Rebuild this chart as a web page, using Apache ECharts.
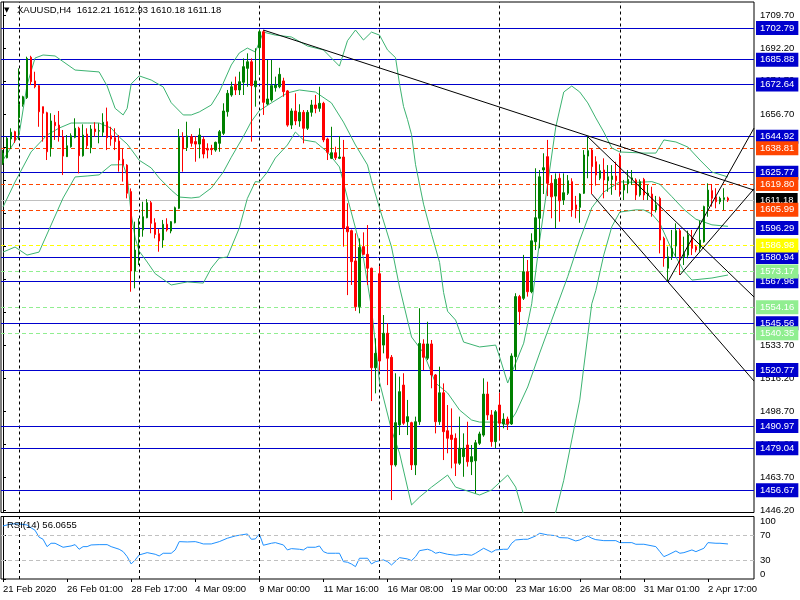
<!DOCTYPE html>
<html><head><meta charset="utf-8">
<script src="https://cdn.jsdelivr.net/npm/echarts@6/dist/echarts.min.js"></script>
<style>html,body{margin:0;padding:0;background:#fff}#c{width:800px;height:600px}</style>
</head><body><div id="c"></div>
<script>
// ---------- DATA ----------
const titleText = 'XAUUSD,H4  1612.21 1612.93 1610.18 1611.18';
const rsiTitle = 'RSI(14) 56.0655';
// H4 candles [open, high, low, close], oldest first (index 0 = 21 Feb 2020)
const candles = [
[1630.9,1637.8,1629.9,1636.2],[1633.7,1644.9,1633.4,1644.1],[1643.7,1649.4,1638.4,1647.3],[1647.6,1648.1,1641.6,1643.2],
[1655.0,1681.3,1643.2,1662.2],[1662.2,1666.7,1660.9,1666.2],[1665.7,1687.5,1665.0,1686.6],[1687.2,1688.0,1672.4,1674.2],
[1674.6,1679.5,1670.7,1671.5],[1672.1,1672.4,1650.2,1658.2],[1660.9,1660.9,1642.3,1657.4],[1657.7,1658.2,1632.5,1636.9],
[1639.1,1657.4,1634.3,1653.3],[1652.6,1656.5,1643.2,1650.8],[1651.1,1658.6,1642.3,1645.3],[1644.9,1648.5,1624.5,1634.6],
[1634.3,1645.8,1634.1,1640.1],[1639.6,1646.7,1639.1,1645.4],[1644.6,1654.7,1644.1,1649.4],[1649.4,1650.2,1625.4,1634.8],
[1634.8,1651.5,1634.3,1645.8],[1646.3,1649.4,1638.4,1640.1],[1639.1,1651.1,1636.1,1649.0],[1649.0,1652.6,1644.9,1647.6],
[1647.9,1652.0,1641.4,1648.1],[1647.3,1657.4,1644.9,1652.6],[1652.9,1660.4,1637.8,1644.4],[1645.4,1650.2,1640.1,1643.7],
[1644.4,1649.4,1637.8,1642.3],[1642.6,1645.8,1626.3,1632.5],[1632.9,1638.7,1621.0,1629.8],[1629.8,1630.3,1612.1,1614.8],
[1615.7,1617.4,1562.4,1573.4],[1573.4,1599.7,1564.2,1584.6],[1591.7,1601.5,1576.6,1595.3],[1595.3,1610.3,1591.7,1602.3],
[1601.8,1611.7,1601.5,1609.8],[1609.8,1610.7,1593.5,1598.8],[1599.1,1601.5,1590.8,1592.9],[1593.3,1595.8,1583.7,1589.4],
[1589.9,1600.6,1585.8,1598.3],[1598.3,1601.5,1594.4,1595.3],[1594.7,1600.0,1593.5,1599.7],[1599.1,1607.7,1598.8,1607.1],
[1606.8,1649.0,1606.4,1644.6],[1644.6,1647.3,1626.3,1638.4],[1639.1,1652.9,1637.3,1645.3],[1644.9,1646.3,1639.6,1641.4],
[1642.3,1645.3,1631.6,1641.0],[1641.0,1649.4,1633.4,1645.8],[1643.5,1644.9,1633.4,1635.7],[1638.7,1641.4,1633.4,1637.8],
[1638.7,1640.6,1635.2,1638.0],[1637.8,1642.3,1636.9,1641.9],[1641.4,1648.5,1636.9,1647.6],[1646.7,1662.7,1645.8,1658.6],
[1658.2,1669.8,1655.6,1668.0],[1667.1,1674.2,1666.2,1671.5],[1672.8,1676.9,1667.1,1669.8],[1669.8,1679.5,1667.1,1674.2],
[1673.9,1686.6,1667.1,1682.2],[1681.3,1689.3,1671.5,1684.8],[1684.8,1686.6,1642.3,1672.1],[1671.5,1692.0,1660.9,1674.6],
[1692.3,1701.7,1677.8,1700.8],[1700.8,1701.7,1656.5,1663.2],[1662.3,1685.8,1661.8,1665.0],[1664.5,1685.8,1663.6,1672.1],
[1671.0,1676.9,1668.9,1672.4],[1671.5,1681.6,1670.7,1678.1],[1674.6,1676.3,1666.2,1668.9],[1669.3,1669.8,1650.2,1651.1],
[1651.1,1660.0,1649.0,1658.6],[1658.6,1668.0,1651.1,1653.3],[1653.3,1662.2,1650.2,1657.9],[1657.9,1659.1,1641.4,1649.4],
[1649.4,1659.1,1648.5,1657.9],[1657.9,1664.5,1655.6,1661.8],[1661.8,1667.1,1657.4,1660.0],[1660.0,1671.5,1658.2,1662.7],
[1662.7,1663.5,1642.0,1643.2],[1643.7,1644.4,1632.5,1636.6],[1633.4,1650.2,1633.0,1636.4],[1636.4,1639.6,1632.5,1633.7],
[1633.4,1645.3,1633.0,1634.1],[1634.1,1643.2,1586.4,1596.2],[1597.0,1609.5,1560.6,1594.3],[1594.9,1595.5,1566.0,1578.4],
[1578.8,1593.5,1552.2,1554.4],[1554.4,1590.8,1550.9,1586.0],[1586.4,1594.0,1581.9,1582.3],[1582.3,1597.9,1566.0,1574.9],
[1574.9,1575.2,1504.2,1521.9],[1521.9,1537.6,1508.3,1529.6],[1572.0,1576.0,1520.0,1525.5],[1534.0,1550.0,1529.6,1540.3],
[1540.3,1545.6,1512.7,1527.0],[1527.5,1528.7,1451.5,1470.2],[1470.2,1519.0,1469.3,1492.7],[1491.5,1517.2,1486.1,1509.2],
[1512.7,1519.0,1491.5,1492.4],[1493.2,1504.8,1486.1,1495.9],[1492.7,1493.2,1467.5,1470.2],[1470.2,1495.9,1464.8,1493.2],
[1493.2,1553.6,1491.5,1534.9],[1534.6,1537.1,1520.7,1527.5],[1527.0,1546.4,1526.0,1534.6],[1534.6,1536.7,1511.0,1518.1],
[1518.1,1518.6,1487.0,1493.2],[1493.2,1522.5,1491.5,1508.6],[1508.6,1513.6,1472.8,1487.9],[1488.4,1502.1,1476.4,1484.4],
[1486.1,1500.3,1468.4,1483.8],[1484.4,1487.0,1464.3,1471.1],[1471.1,1495.9,1470.2,1479.1],[1474.6,1487.0,1463.9,1479.1],
[1480.8,1493.2,1469.3,1471.9],[1471.9,1480.8,1464.8,1474.6],[1472.4,1483.5,1455.1,1482.0],[1481.7,1487.9,1480.8,1486.7],
[1486.1,1516.3,1485.2,1507.9],[1507.9,1514.5,1494.1,1496.8],[1496.8,1499.4,1479.9,1482.6],[1482.6,1499.4,1479.0,1498.5],
[1502.1,1508.6,1483.5,1492.4],[1492.0,1497.7,1489.7,1494.6],[1494.6,1495.9,1488.8,1492.0],[1492.0,1529.6,1491.5,1528.2],
[1527.8,1561.6,1520.7,1559.8],[1559.8,1560.7,1544.7,1551.8],[1558.9,1582.0,1558.0,1573.0],[1573.0,1579.3,1559.8,1562.4],
[1562.4,1593.5,1561.6,1589.5],[1589.0,1628.1,1584.6,1601.8],[1601.5,1627.2,1585.5,1623.6],[1627.2,1636.1,1614.4,1628.4],
[1634.3,1643.2,1613.3,1620.1],[1620.1,1624.5,1601.5,1612.9],[1613.3,1625.4,1596.2,1622.2],[1622.8,1625.4,1599.7,1610.8],
[1611.2,1625.4,1608.6,1615.1],[1614.8,1624.5,1613.9,1621.5],[1621.0,1622.8,1602.3,1605.9],[1608.6,1613.4,1601.5,1606.3],
[1607.3,1614.8,1599.1,1614.4],[1614.8,1637.8,1614.4,1635.2],[1634.6,1644.9,1622.8,1637.5],[1637.8,1638.7,1614.4,1629.0],
[1631.6,1634.5,1618.9,1624.5],[1622.8,1630.2,1621.8,1626.8],[1627.2,1633.4,1612.1,1621.9],[1621.5,1629.8,1615.6,1623.6],
[1622.2,1629.8,1614.0,1624.0],[1624.0,1631.6,1616.5,1621.5],[1634.3,1636.1,1613.0,1616.5],[1616.5,1621.9,1611.2,1619.2],
[1619.7,1627.2,1614.8,1622.2],[1622.2,1627.2,1619.2,1623.0],[1621.9,1622.8,1611.2,1613.9],[1613.9,1622.2,1613.0,1621.0],
[1622.2,1623.0,1611.2,1613.9],[1613.9,1619.2,1611.2,1614.8],[1614.4,1618.3,1602.3,1605.9],[1605.9,1613.4,1604.6,1608.6],
[1612.1,1613.0,1582.8,1589.9],[1590.8,1591.7,1575.7,1580.2],[1574.9,1586.4,1567.7,1581.0],[1581.0,1595.3,1579.3,1585.5],
[1586.7,1598.8,1581.0,1594.9],[1594.9,1596.1,1571.3,1581.0],[1581.0,1591.7,1576.6,1582.8],[1581.9,1594.9,1580.2,1592.6],
[1590.8,1595.3,1581.9,1585.5],[1586.4,1587.3,1583.4,1584.6],[1585.5,1600.2,1583.7,1589.9],[1589.0,1608.2,1588.5,1607.7],
[1607.7,1620.1,1602.3,1616.5],[1616.2,1619.7,1607.7,1612.1],[1613.0,1617.5,1606.8,1610.3],[1610.3,1613.0,1609.0,1612.1],
[1611.5,1617.5,1605.9,1612.4],[1612.21,1612.93,1610.18,1611.18]
];
const totalSlots = 188; // bars + empty chart-shift space on the right

// Bollinger bands, read at [bar index, price]
const bbUpper = [[0,1632.5],[4,1645.8],[6,1672.4],[8,1686.8],[10,1688.4],[13,1687.9],[18,1680.4],[24,1679.4],[26,1671.9],[28,1660.0],[30,1656.5],[31,1660.0],[32,1673.0],[34,1677.3],[37,1675.1],[40,1671.4],[42,1663.0],[45,1656.5],[47,1656.5],[49,1658.1],[52,1661.8],[54,1668.7],[57,1683.1],[59,1689.5],[61,1692.1],[63,1690.0],[65,1700.6],[68,1699.0],[72,1698.0],[76,1693.2],[80,1691.1],[84,1682.5],[86,1696.0],[88,1701.7],[90,1696.4],[92,1700.6],[94,1699.0],[96,1691.1],[98,1687.0],[99,1673.0],[100,1661.0],[101,1654.0],[102,1646.0],[103,1630.0],[105,1609.0],[107,1593.0],[109,1578.0],[110,1562.0],[111,1552.0],[113,1547.3],[115,1535.6],[119,1533.0],[123,1534.0],[124,1527.6],[126,1513.8],[127,1519.2],[130,1535.0],[132,1556.0],[134,1590.0],[136,1620.0],[138,1650.0],[140,1668.7],[142,1671.9],[144,1668.7],[146,1662.9],[148,1654.9],[150,1647.4],[152,1638.9],[154,1636.8],[160,1636.2],[163,1636.2],[165,1643.2],[168,1642.1],[171,1639.4],[174,1632.5],[177,1626.1],[181,1623.5]];
const bbMiddle = [[0,1607.5],[3,1620.8],[7,1636.8],[11,1645.8],[14,1649.5],[17,1652.2],[21,1652.2],[24,1652.2],[27,1649.5],[29,1644.8],[31,1641.0],[32,1638.2],[34,1632.4],[37,1628.3],[39,1622.9],[42,1616.5],[44,1612.8],[47,1612.3],[49,1612.8],[52,1617.6],[55,1626.1],[57,1634.0],[60,1645.0],[62,1653.0],[64,1658.8],[67,1662.9],[71,1668.2],[74,1669.8],[78,1668.7],[82,1662.9],[85,1652.7],[88,1640.5],[91,1629.9],[92,1621.5],[94,1607.0],[97,1586.2],[99,1564.9],[102,1538.3],[105,1529.8],[108,1513.8],[111,1508.5],[114,1499.4],[117,1494.1],[119,1493.0],[124,1493.0],[126,1491.4],[128,1497.8],[131,1511.7],[134,1529.8],[137,1547.3],[141,1570.5],[144,1589.9],[147,1607.1],[150,1615.5],[154,1620.9],[158,1620.6],[162,1621.0],[164,1619.6],[167,1613.0],[170,1606.2],[173,1601.0],[177,1598.0],[181,1597.2]];
const bbLower = [[0,1583.5],[3,1586.2],[6,1581.9],[9,1583.5],[12,1597.9],[15,1612.3],[18,1623.5],[21,1624.0],[24,1624.6],[27,1629.9],[30,1630.0],[31,1624.0],[32,1604.0],[33,1591.0],[34,1584.0],[36,1578.2],[38,1572.0],[42,1566.0],[46,1567.6],[50,1567.0],[52,1575.0],[54,1580.3],[56,1580.9],[59,1596.3],[61,1612.0],[63,1621.0],[64,1620.8],[66,1626.1],[68,1633.6],[71,1640.5],[73,1647.4],[75,1643.2],[78,1642.1],[81,1636.8],[84,1628.8],[86,1612.3],[90,1580.3],[92,1553.7],[94,1514.3],[97,1488.8],[99,1476.5],[102,1448.9],[104,1453.1],[107,1458.4],[111,1464.8],[113,1458.4],[119,1454.2],[122,1456.9],[126,1464.8],[128,1458.4],[130,1443.5],[133,1432.0],[136,1432.9],[138,1445.1],[140,1462.0],[142,1483.5],[144,1504.8],[145,1522.3],[147,1556.0],[148,1563.0],[150,1582.0],[152,1597.0],[154,1604.8],[158,1606.0],[160,1605.9],[162,1603.8],[164,1598.8],[167,1584.6],[170,1573.4],[172,1568.6],[177,1569.7],[181,1571.3]];

// RSI(14), read at [bar index, value]
const rsiValues = [[0,84.9],[2,88.1],[4,88.1],[6,86.5],[7,82],[8,78],[9,67],[10,63.6],[11,51.8],[12,57.2],[13,57.2],[15,50.8],[17,52.9],[18,55.0],[19,47.6],[20,51.8],[21,51.8],[22,54.5],[24,55.0],[26,55.0],[27,51.8],[29,47.6],[30,43.8],[31,35.8],[32,24.1],[33,30.5],[34,38.5],[36,42.2],[38,39.6],[39,36.9],[40,41.2],[42,41.2],[43,46.5],[44,59.8],[46,59.3],[48,59.8],[49,58.2],[50,56.1],[52,56.1],[54,59.8],[56,65.2],[58,68.9],[59,70.0],[61,72.1],[62,63.6],[63,64.1],[64,72.1],[65,54.0],[67,57.2],[68,58.2],[70,54.5],[71,46.5],[72,48.6],[74,47.6],[75,46.5],[76,50.8],[78,50.8],[79,52.9],[80,43.8],[81,41.2],[83,41.2],[84,41.2],[85,27.8],[86,26.8],[87,24.0],[88,19.8],[89,33.2],[91,33.2],[92,24.1],[93,27.8],[95,30.5],[96,27.8],[97,22.5],[99,34.2],[101,32.1],[102,29.4],[103,35.8],[104,45.4],[106,47.6],[107,45.4],[108,41.2],[109,42.8],[111,39.6],[113,38.0],[115,39.6],[117,38.0],[118,41.2],[120,49.2],[122,42.8],[123,46.5],[125,47.6],[126,47.6],[127,57.2],[128,62.5],[130,63.6],[131,63.6],[133,68.9],[134,73.2],[136,70.5],[138,69.4],[139,66.2],[141,65.7],[143,60.9],[144,62.5],[146,68.9],[147,65.2],[148,63.0],[150,61.4],[153,61.4],[154,58.2],[157,58.2],[158,55.6],[160,55.6],[163,51.8],[164,43.8],[165,35.8],[166,38.5],[168,44.9],[169,41.2],[170,42.2],[172,46.5],[173,43.8],[175,49.2],[176,58.2],[178,57.2],[179,57.2],[181,56.07]];

// Trend lines: two anchor points [bar index, price], extended to the right edge
const trendLines = [
  [[65,1701.7],[187.5,1616.5]],
  [[146,1644.9],[187.5,1559.6]],
  [[147,1614.4],[166,1567.7]],
  [[166,1567.7],[187.5,1649.5]],
  [[169,1571.3],[187.5,1617.2]]
];

// Horizontal levels
const blueLevels = [1702.79,1685.88,1672.64,1644.92,1625.77,1596.29,1580.94,1567.96,1545.56,1520.77,1490.97,1479.04,1456.67];
const orangeLevels = [1638.81,1619.80,1605.99];
const yellowLevels = [1586.98];
const greenLevels = [1573.17,1554.16,1540.35];
const bidPrice = 1611.18;

// Week separators (bar index)
const separators = [4,34,64,94,124,154];

// Axis tick labels
const priceTicks = [1709.70,1692.20,1674.70,1656.70,1639.20,1621.70,1604.20,1586.70,1569.20,1551.70,1533.70,1516.20,1498.70,1481.20,1463.70,1446.20];
const rsiTicks = [0,30,70,100];
const rsiLevels = [70,30];
const timeLabels = [[0,'21 Feb 2020'],[16,'26 Feb 01:00'],[32,'28 Feb 17:00'],[48,'4 Mar 09:00'],[64,'9 Mar 00:00'],[80,'11 Mar 16:00'],[96,'16 Mar 08:00'],[112,'19 Mar 00:00'],[128,'23 Mar 16:00'],[144,'26 Mar 08:00'],[160,'31 Mar 01:00'],[176,'2 Apr 17:00']];

// ---------- CHART ----------
const FONT = '"Liberation Sans", Arial, sans-serif';
const FS = 9.5;
const cats = Array.from({length: totalSlots}, (_, i) => String(i));
const labelMap = {}; timeLabels.forEach(t => labelMap[t[0]] = t[1]);
const candleData = cats.map((c, i) => {
  const k = candles[i];
  return k ? [k[0], k[3], k[2], k[1]] : '-';
});
const xEnd = totalSlots - 0.5;
function extend(seg) {
  const a = seg[0], b = seg[1];
  const s = (b[1] - a[1]) / (b[0] - a[0]);
  return [a, [xEnd, a[1] + s * (xEnd - a[0])]];
}
function levelItem(v, lineColor, type, boxColor, textColor) {
  return {
    yAxis: v,
    lineStyle: {color: lineColor, type: type, width: 1},
    label: {
      show: true, position: 'end', distance: 2,
      formatter: v.toFixed(2),
      color: textColor, backgroundColor: boxColor,
      fontFamily: FONT, fontSize: FS, padding: [2, 4, 1, 4], lineHeight: 11
    }
  };
}
const levelData = [];
levelData.push(levelItem(bidPrice, '#C0C0C0', 'solid', '#000000', '#ffffff'));
blueLevels.forEach(v => levelData.push(levelItem(v, '#0000CD', 'solid', '#0000CD', '#ffffff')));
orangeLevels.forEach(v => levelData.push(levelItem(v, '#FF4500', [4, 3], '#FF4500', '#ffffff')));
yellowLevels.forEach(v => levelData.push(levelItem(v, '#FFFF00', [4, 3], '#FFFF00', '#ffffff')));
greenLevels.forEach(v => levelData.push(levelItem(v, '#90EE90', [4, 3], '#90EE90', '#ffffff')));
const sepItems = separators.map(i => ({xAxis: i, label: {show: false},
  lineStyle: {color: '#000', type: [3, 3], width: 1}}));

const bbStyle = {color: '#3CB371', width: 1};
function bbSeries(d) {
  return {type: 'line', xAxisIndex: 1, yAxisIndex: 0, data: d, showSymbol: false, symbol: 'none',
    lineStyle: bbStyle, silent: true, z: 3};
}

const chart = echarts.init(document.getElementById('c'), null, {renderer: 'canvas'});
chart.setOption({
  animation: false,
  backgroundColor: '#ffffff',
  grid: [
    {left: 1, right: 46, top: 2, height: 510.5, show: true, borderColor: '#000', borderWidth: 1, backgroundColor: 'transparent'},
    {left: 1, right: 46, top: 516.5, height: 62.5, show: true, borderColor: '#000', borderWidth: 1, backgroundColor: 'transparent'}
  ],
  xAxis: [
    {type: 'category', gridIndex: 0, data: cats, boundaryGap: true, show: false},
    {type: 'value', gridIndex: 0, min: -0.5, max: xEnd, show: false},
    {type: 'category', gridIndex: 1, data: cats, boundaryGap: true,
      axisLine: {show: false},
      axisTick: {show: true, alignWithLabel: true, length: 3, lineStyle: {color: '#000'},
        interval: (idx) => labelMap[idx] !== undefined},
      axisLabel: {show: true, align: 'left', margin: 5, color: '#000', fontFamily: FONT, fontSize: FS,
        showMaxLabel: true, showMinLabel: true, hideOverlap: false,
        interval: (idx) => labelMap[idx] !== undefined,
        formatter: (v, idx) => labelMap[idx] || ''},
      splitLine: {show: false}},
    {type: 'value', gridIndex: 1, min: -0.5, max: xEnd, show: false}
  ],
  yAxis: [
    {type: 'value', gridIndex: 0, position: 'right', min: 1444.88, max: 1716.62, scale: true,
      axisLine: {show: true, lineStyle: {color: '#000'}},
      axisTick: {show: true, length: 3, lineStyle: {color: '#000'}, customValues: priceTicks},
      axisLabel: {show: true, margin: 6, color: '#000', fontFamily: FONT, fontSize: FS,
        customValues: priceTicks, formatter: v => Number(v).toFixed(2)},
      splitLine: {show: false}},
    {type: 'value', gridIndex: 1, position: 'right', min: 0, max: 100,
      axisLine: {show: true, lineStyle: {color: '#000'}},
      axisTick: {show: true, length: 3, lineStyle: {color: '#000'}, customValues: rsiTicks},
      axisLabel: {show: true, margin: 6, color: '#000', fontFamily: FONT, fontSize: FS,
        customValues: rsiTicks, verticalAlignMaxLabel: 'top', verticalAlignMinLabel: 'bottom',
        formatter: v => String(v)},
      splitLine: {show: false}}
  ],
  graphic: [
    {type: 'text', left: 4, top: 7, z: 100, style: {text: '▼', fill: '#000', font: '7px "DejaVu Sans"'}},
    {type: 'text', left: 17, top: 5, z: 100, style: {text: titleText, fill: '#000', font: FS + 'px ' + FONT}},
    {type: 'text', left: 7, top: 520, z: 100, style: {text: rsiTitle, fill: '#000', font: FS + 'px ' + FONT}}
  ],
  series: [
    {
      type: 'candlestick', xAxisIndex: 0, yAxisIndex: 0, data: candleData, barWidth: 2, z: 4,
      itemStyle: {color: '#008000', color0: '#FF0000', borderColor: '#008000', borderColor0: '#FF0000', borderWidth: 1},
      markLine: {symbol: ['none', 'none'], silent: true, animation: false, z: 2,
        data: sepItems.concat(levelData)}
    },
    bbSeries(bbUpper), bbSeries(bbMiddle), bbSeries(bbLower),
    ...trendLines.map(t => ({type: 'line', xAxisIndex: 1, yAxisIndex: 0, data: extend(t), symbol: 'none',
      showSymbol: false, silent: true, z: 5, lineStyle: {color: '#000', width: 1}})),
    {
      type: 'line', xAxisIndex: 3, yAxisIndex: 1, data: rsiValues, symbol: 'none', showSymbol: false,
      lineStyle: {color: '#1E90FF', width: 1}, silent: true, z: 4,
      markLine: {symbol: ['none', 'none'], silent: true, animation: false,
        data: rsiLevels.map(v => ({yAxis: v, label: {show: false}, lineStyle: {color: '#C0C0C0', type: [4, 3], width: 1}}))
          .concat(separators.map(i => ({xAxis: i, label: {show: false}, lineStyle: {color: '#000', type: [3, 3], width: 1}})))}
    }
  ]
});
</script>
</body></html>
